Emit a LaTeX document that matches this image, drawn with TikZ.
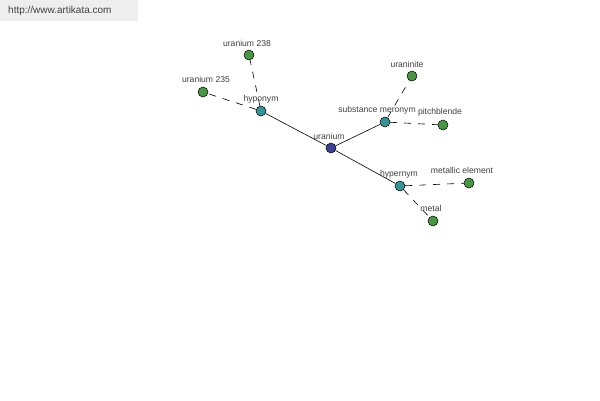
\documentclass[tikz,border=0pt]{standalone}
\usepackage{fontspec}
\setmainfont{Liberation Sans}
\begin{document}
\begin{tikzpicture}[x=1pt,y=-1pt,
  every node/.style={inner sep=0pt},
  root/.style={circle,draw=black,line width=0.5pt,fill=rootc,minimum size=10pt},
  hub/.style={circle,draw=black,line width=0.5pt,fill=hubc,minimum size=10pt},
  leaf/.style={circle,draw=black,line width=0.5pt,fill=leafc,minimum size=10pt},
  lbl/.style={font=\fontsize{8.6}{9}\selectfont,text=labc},
  solidedge/.style={draw=black,line width=0.6pt},
  dashedge/.style={draw=black,line width=0.6pt,dash pattern=on 7pt off 7pt}]
\definecolor{rootc}{HTML}{3D428F}
\definecolor{hubc}{HTML}{3A9294}
\definecolor{leafc}{HTML}{4B9446}
\definecolor{labc}{HTML}{404040}
\definecolor{wmbg}{HTML}{EEEEEE}
\useasboundingbox (0,0) rectangle (600,400);
\fill[white] (0,0) rectangle (600,400);
\fill[wmbg] (0,0) rectangle (138,21);
\node[font=\fontsize{10}{11}\selectfont,text=labc,anchor=west] (wm) at (8,11) {http://www.artikata.com};
% nodes
\node[root] (ur) at (331,148) {};
\node[hub] (hyp) at (261,111) {};
\node[hub] (sm) at (385,122) {};
\node[hub] (hyper) at (400,186) {};
\node[leaf] (u238) at (249,55) {};
\node[leaf] (u235) at (203,92) {};
\node[leaf] (urn) at (412,76) {};
\node[leaf] (pb) at (443,125) {};
\node[leaf] (me) at (469,183) {};
\node[leaf] (mt) at (433,221) {};
% edges
\path[solidedge] (ur) -- (hyp);
\path[solidedge] (ur) -- (sm);
\path[solidedge] (ur) -- (hyper);
\path[dashedge] (hyp) -- (u238);
\path[dashedge] (hyp) -- (u235);
\path[dashedge] (sm) -- (urn);
\path[dashedge] (sm) -- (pb);
\path[dashedge] (hyper) -- (me);
\path[dashedge] (hyper) -- (mt);
% labels
\node[lbl] (l-ur) at (329,136) {uranium};
\node[lbl] (l-hyp) at (261,99) {hyponym};
\node[lbl] (l-sm) at (377,110) {substance meronym};
\node[lbl] (l-hyper) at (399,174) {hypernym};
\node[lbl] (l-u238) at (247,43) {uranium 238};
\node[lbl] (l-u235) at (206,79) {uranium 235};
\node[lbl] (l-urn) at (407,64) {uraninite};
\node[lbl] (l-pb) at (440,112) {pitchblende};
\node[lbl] (l-me) at (462,170) {metallic element};
\node[lbl] (l-mt) at (431,208) {metal};
\end{tikzpicture}
\end{document}
